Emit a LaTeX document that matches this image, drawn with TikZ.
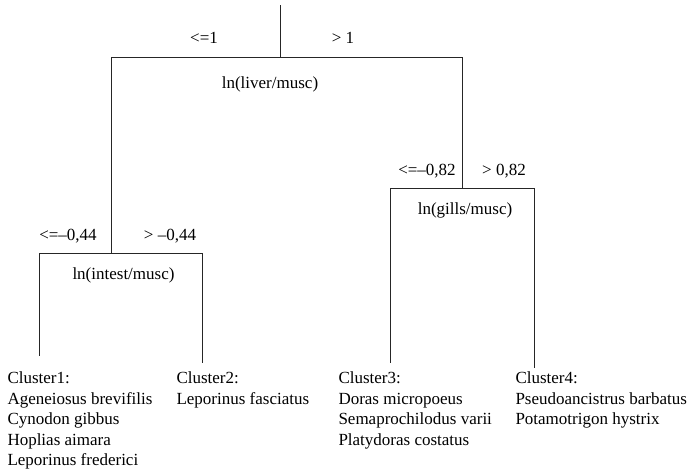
\documentclass[tikz,border=0pt]{standalone}
\usepackage{fontspec}
\setmainfont{Liberation Serif}
\begin{document}
\begin{tikzpicture}[x=1pt,y=-1pt,font=\fontsize{17}{20.5}\selectfont,inner sep=0pt,
                line width=1pt,draw=black!85,
                lbl/.style={anchor=base},
                clu/.style={anchor=north west,align=left}]
                \useasboundingbox (0,0) rectangle (691,475);

                \coordinate (top) at (280,5);
                \coordinate (r) at (280,57);
                \coordinate (rl) at (111,57);
                \coordinate (rr) at (462,57);
                \coordinate (a) at (111,253);
                \coordinate (al) at (39,253);
                \coordinate (ar) at (202,253);
                \coordinate (b) at (462,188);
                \coordinate (bl) at (390,188);
                \coordinate (br) at (534,188);
                \coordinate (e1) at (39,356);
                \coordinate (e2) at (202,363);
                \coordinate (e3) at (390,363);
                \coordinate (e4) at (534,368);

                \node[lbl] (rle) at (204,43) {<=1};
                \node[lbl] (rgt) at (343,43) {> 1};
                \node[lbl] (liver) at (270,88) {ln(liver/musc)};
                \node[lbl] (ale) at (68,240) {<=–0,44};
                \node[lbl] (agt) at (170,240) {> –0,44};
                \node[lbl] (intest) at (123.5,279) {ln(intest/musc)};
                \node[lbl] (ble) at (427,175) {<=–0,82};
                \node[lbl] (bgt) at (504,175) {> 0,82};
                \node[lbl] (gills) at (465,214) {ln(gills/musc)};

                \node[clu] (c1) at (7,371.4) {Cluster1:\\Ageneiosus brevifilis\\Cynodon gibbus\\Hoplias aimara\\Leporinus frederici};
                \node[clu] (c2) at (176,371.4) {Cluster2:\\Leporinus fasciatus};
                \node[clu] (c3) at (338,371.4) {Cluster3:\\Doras micropoeus\\Semaprochilodus varii\\Platydoras costatus};
                \node[clu] (c4) at (515,371.4) {Cluster4:\\Pseudoancistrus barbatus\\Potamotrigon hystrix};

                \draw (top) to (r);
                \draw (rl) to (rr);
                \draw (rl) to (a);
                \draw (rr) to (b);
                \draw (al) to (ar);
                \draw (al) to (e1);
                \draw (ar) to (e2);
                \draw (bl) to (br);
                \draw (bl) to (e3);
                \draw (br) to (e4);
            \end{tikzpicture}
\end{document}
